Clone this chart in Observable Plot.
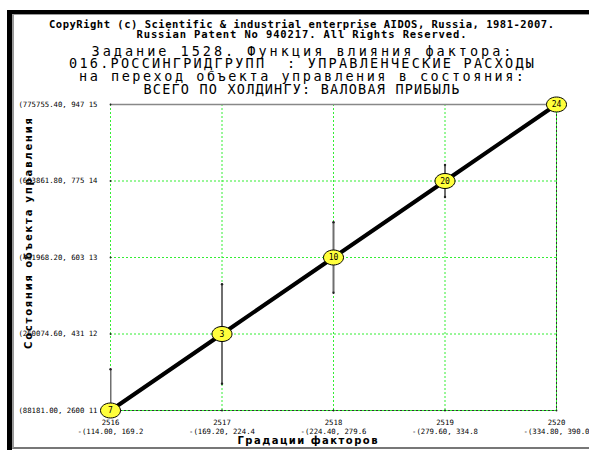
<!DOCTYPE html>
<html><head><meta charset="utf-8">
<script src="https://cdn.jsdelivr.net/npm/d3@7"></script>
<script src="https://cdn.jsdelivr.net/npm/@observablehq/plot@0.6"></script>
<style>
body{margin:0;overflow:hidden;background:#fff;}
#wrap{position:relative;width:589px;height:450px;overflow:hidden;background:#fff;}
#b1{position:absolute;left:7px;top:10px;width:620px;height:460px;border-top:4px solid #000;border-left:5px solid #000;box-sizing:border-box;}
#b2{position:absolute;left:12px;top:14px;width:620px;height:435px;border-top:1px solid #999;border-left:2px solid #999;border-bottom:2px solid #777;box-sizing:border-box;}
#chart{position:absolute;left:0;top:0;}
</style>
</head><body>
<div id="wrap"><div id="b1"></div><div id="b2"></div><div id="chart"></div></div>
<script>
const gradations = [2516, 2517, 2518, 2519, 2520];
const gradationRanges = ["-(114.00, 169.2", "-(169.20, 224.4", "-(224.40, 279.6", "-(279.60, 334.8", "-(334.80, 390.0"];
const stateLevels = [11, 12, 13, 14, 15];
const stateLabels = ["(88181.00, 2600 11", "(260074.60, 431 12", "(431968.20, 603 13", "(603861.80, 775 14", "(775755.40, 947 15"];
const pointState = [11, 12, 13, 14, 15];
const pointLabels = ["7", "3", "10", "20", "24"];
const errLow = [10.46, 11.35, 12.54, 13.79, 15];
const errHigh = [11.54, 12.65, 13.46, 14.21, 15];
const titleLines = [
  "CopyRight (c) Scientific & industrial enterprise AIDOS, Russia, 1981-2007.",
  "Russian Patent No 940217. All Rights Reserved.",
  "Задание 1528. Функция влияния фактора:",
  "016.РОССИНГРИДГРУПП  : УПРАВЛЕНЧЕСКИЕ РАСХОДЫ",
  "на переход объекта управления в состояния:",
  "ВСЕГО ПО ХОЛДИНГУ: ВАЛОВАЯ ПРИБЫЛЬ"
];
const yTitle = "Состояния объекта управления";
const xTitle = "Градации факторов";

const points = gradations.map((g, i) => ({x: g, y: pointState[i], label: pointLabels[i], lo: errLow[i], hi: errHigh[i]}));
const bars = points.filter(d => d.hi > d.lo);
const xMin = gradations[0], xMax = gradations[gradations.length - 1];
const yMin = stateLevels[0], yMax = stateLevels[stateLevels.length - 1];

const ellipse = {draw(ctx) {
  const rx = 10, ry = 7.5, k = 0.5523;
  ctx.moveTo(rx, 0);
  ctx.bezierCurveTo(rx, ry * k, rx * k, ry, 0, ry);
  ctx.bezierCurveTo(-rx * k, ry, -rx, ry * k, -rx, 0);
  ctx.bezierCurveTo(-rx, -ry * k, -rx * k, -ry, 0, -ry);
  ctx.bezierCurveTo(rx * k, -ry, rx, -ry * k, rx, 0);
  ctx.closePath();
}};

const green = "#33ee33";
const dash = "2,2";
const mono = "'DejaVu Sans Mono', monospace";
const titleDy = [-80, -70, -53, -40.5, -27.5, -14.5];
const titleLen = [505, 330, 420, 465, 445, 316];

const marks = [
  Plot.ruleY(stateLevels.slice(1, -1), {stroke: green, strokeDasharray: dash}),
  Plot.ruleX(gradations.slice(1, -1), {stroke: green, strokeDasharray: dash}),
  Plot.ruleY([yMin], {stroke: "#333"}),
  Plot.ruleY([yMin], {stroke: green, strokeDasharray: dash}),
  Plot.ruleX([xMax], {stroke: "#333"}),
  Plot.ruleX([xMax], {stroke: green, strokeDasharray: dash}),
  Plot.ruleX([xMin], {stroke: green, strokeDasharray: dash}),
  Plot.ruleY([yMax], {stroke: "#888", strokeWidth: 1.5}),
  Plot.dot(stateLevels, {x: () => xMin, y: d => d, r: 0.9, fill: "#222"}),
  Plot.dot(gradations, {x: d => d, y: () => yMin, r: 0.9, fill: "#222"}),
  Plot.ruleX(bars, {x: "x", y1: "lo", y2: "hi", stroke: "#6f6f6f", strokeWidth: 2, clip: true}),
  Plot.dot(bars, {x: "x", y: "hi", r: 1.2, fill: "#222"}),
  Plot.dot(bars, {x: "x", y: "lo", r: 1.2, fill: "#222", clip: true}),
  Plot.line(points, {x: "x", y: "y", stroke: "#000", strokeWidth: 4}),
  Plot.dot(points, {x: "x", y: "y", symbol: ellipse, fill: "#ffff3c", stroke: "#000", strokeWidth: 1}),
  Plot.text(points, {x: "x", y: "y", text: "label", fontSize: 8, fontFamily: mono, fill: "#000"}),
  Plot.text(stateLevels, {x: () => xMin, y: d => d, text: (d, i) => stateLabels[i], textAnchor: "end", dx: -13, fontSize: 7.3, fontFamily: mono, fill: "#000"}),
  Plot.text(gradations, {x: d => d, y: () => yMin, text: d => String(d), dy: 12.5, fontSize: 7.3, fontFamily: mono, fill: "#000"}),
  Plot.text(gradations, {x: d => d, y: () => yMin, text: (d, i) => gradationRanges[i], dy: 21.5, fontSize: 7.3, fontFamily: mono, fill: "#000"}),
  Plot.text([yTitle], {frameAnchor: "left", textAnchor: "middle", lineAnchor: "middle", dx: -82, dy: -24, rotate: -90, fontSize: 10, fontWeight: "bold", fontFamily: "'DejaVu Sans', sans-serif", fill: "#000", className: "ytitle"}),
  Plot.text([xTitle], {frameAnchor: "bottom", textAnchor: "middle", lineAnchor: "middle", dx: -26, dy: 30.5, fontSize: 10, fontWeight: "bold", fontFamily: "'DejaVu Sans', sans-serif", fill: "#000", className: "xtitle"}),
  ...titleLines.map((t, i) => Plot.text([t], {
    frameAnchor: "top", textAnchor: "middle", lineAnchor: "middle", dx: -32, dy: titleDy[i],
    fontSize: i < 2 ? 10.5 : 13.5, fontWeight: i < 2 ? "bold" : "normal",
    fontFamily: mono, fill: "#000", className: "title" + i
  }))
];

const chart = Plot.plot({
  width: 589, height: 450,
  marginLeft: 110, marginRight: 33, marginTop: 104, marginBottom: 40,
  x: {domain: [xMin, xMax], axis: null},
  y: {domain: [yMin, yMax], axis: null},
  style: {background: "transparent", overflow: "visible"},
  marks
});
document.getElementById("chart").appendChild(chart);
const svg = d3.select(chart);
titleLen.forEach((L, i) => svg.selectAll(".title" + i + " text").attr("textLength", L));
svg.selectAll(".ytitle text").attr("textLength", 231);
svg.selectAll(".xtitle text").attr("textLength", 140);
</script>
</body></html>
